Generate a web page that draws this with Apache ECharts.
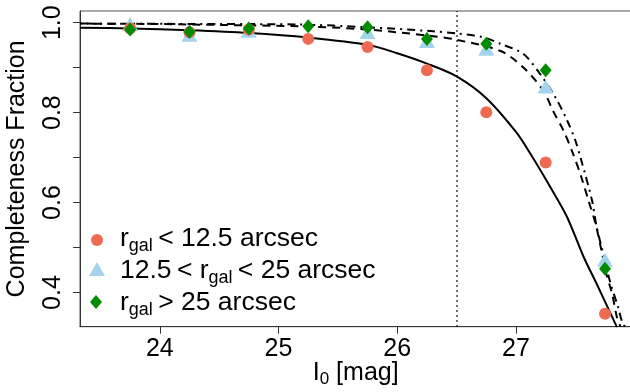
<!DOCTYPE html>
<html>
<head>
<meta charset="utf-8">
<script src="https://cdn.jsdelivr.net/npm/echarts@6/dist/echarts.min.js"></script>
<style>
  html, body { margin: 0; padding: 0; background: #fff; }
  #chart { width: 630px; height: 392px; }
</style>
</head>
<body>
<div id="chart"></div>
<script>
// Magnitude bins and measured completeness fractions per galactocentric radius group
const magBins = [23.75, 24.25, 24.75, 25.25, 25.75, 26.25, 26.75, 27.25, 27.75];
const fracInner = [0.987, 0.979, 0.985, 0.964, 0.946, 0.894, 0.801, 0.689, 0.353];   // r_gal < 12.5
const fracMiddle = [0.992, 0.968, 0.977, null, 0.974, 0.954, 0.937, 0.853, 0.468];   // 12.5 < r_gal < 25
const fracOuter = [0.985, 0.980, 0.987, 0.992, 0.990, 0.964, 0.953, 0.894, 0.453];   // r_gal > 25

// Fitted completeness curves, sampled along magnitude
const fitInnerMag = [23.33, 23.75, 24.25, 24.75, 25.25, 25.75, 26.0, 26.25, 26.5, 26.75, 27.0, 27.12, 27.29, 27.43, 27.57, 27.68, 27.85];
const fitInner = [0.989, 0.987, 0.983, 0.977, 0.967, 0.951, 0.932, 0.909, 0.8805, 0.832, 0.757, 0.709, 0.634, 0.568, 0.479, 0.419, 0.323];

const fitMiddleMag = [23.33, 24.0, 24.5, 25.18, 25.74, 26.3, 26.5, 26.87, 27.06, 27.23, 27.31, 27.40, 27.48, 27.55, 27.61, 27.67, 27.72, 27.76, 27.81, 27.85, 27.88];
const fitMiddle = [0.998, 0.997, 0.995, 0.992, 0.985, 0.970, 0.962, 0.937, 0.901, 0.849, 0.805, 0.760, 0.709, 0.657, 0.605, 0.553, 0.493, 0.442, 0.397, 0.345, 0.324];

const fitOuterMag = [23.33, 24.5, 25.18, 25.74, 26.3, 26.5, 26.72, 26.87, 27.06, 27.2, 27.33, 27.43, 27.5, 27.55, 27.64, 27.68, 27.75, 27.79, 27.86, 27.9, 27.93];
const fitOuter = [0.998, 0.997, 0.996, 0.990, 0.981, 0.976, 0.968, 0.953, 0.931, 0.887, 0.835, 0.783, 0.738, 0.694, 0.605, 0.545, 0.471, 0.426, 0.367, 0.330, 0.322];

// Magnitude limit marker
const magLimit = 26.5;

// Axis ticks
const xTicks = [24, 25, 26, 27];
const yTicks = [0.4, 0.5, 0.6, 0.7, 0.8, 0.9, 1.0];
const yLabels = [0.4, 0.6, 0.8, 1.0];

const FONT = '"Liberation Sans", Arial, Helvetica, sans-serif';
const C_INNER = '#EE6A50';
const C_MIDDLE = '#A4D3EE';
const C_OUTER = '#008B00';

const zip = (xs, ys) => xs.map((x, i) => [x, ys[i]]);

const chart = echarts.init(document.getElementById('chart'), null, { renderer: 'canvas' });

const LEG_FS = 26.5;
const legendRich = {
  n: { fontSize: LEG_FS, fontFamily: FONT, color: '#000', lineHeight: 30 },
  r: { fontSize: LEG_FS, fontFamily: FONT, color: '#000', lineHeight: 30 },
  s: { fontSize: 18, fontFamily: FONT, color: '#000', lineHeight: 30, padding: [14, 0, 0, 0] }
};

function legendRow(y, text) {
  return {
    type: 'text', left: 120, top: y - 15, z: 100,
    style: { text: text, rich: legendRich, fill: '#000', font: LEG_FS + 'px ' + FONT }
  };
}

const option = {
  animation: false,
  backgroundColor: '#fff',
  grid: { left: 80, top: 11, width: 551.4, height: 315.7, containLabel: false, outerBoundsMode: 'none',
    show: true, borderColor: '#555', borderWidth: 1, backgroundColor: 'transparent' },
  xAxis: {
    type: 'value', min: 23.328, max: 27.972,
    splitLine: { show: false },
    axisLine: { show: true, onZero: false, lineStyle: { color: '#333', width: 1 } },
    axisTick: { show: true, inside: false, length: 7, lineStyle: { color: '#333' }, customValues: xTicks },
    axisLabel: { customValues: xTicks, fontSize: 25, fontFamily: FONT, color: '#000', margin: 10 },
    name: '{m|I}{s|0}{m| [mag]}',
    nameLocation: 'middle', nameGap: 31, nameMoveOverlap: false,
    nameTextStyle: {
      rich: {
        m: { fontSize: 25, fontFamily: FONT, color: '#000', lineHeight: 30 },
        s: { fontSize: 17, fontFamily: FONT, color: '#000', lineHeight: 30, padding: [14, 0, 0, 0] }
      }
    }
  },
  yAxis: {
    type: 'value', min: 0.324, max: 1.026,
    splitLine: { show: false },
    axisLine: { show: true, onZero: false, lineStyle: { color: '#333', width: 1 } },
    axisTick: { show: true, inside: false, length: 7, lineStyle: { color: '#333' }, customValues: yTicks },
    axisLabel: { customValues: yLabels, rotate: 90, fontSize: 25, fontFamily: FONT, color: '#000', margin: 14,
      formatter: v => v.toFixed(1) },
    name: 'Completeness Fraction',
    nameLocation: 'middle', nameGap: 50, nameRotate: 90, nameMoveOverlap: false,
    nameTextStyle: { fontSize: 25, fontFamily: FONT, color: '#000' }
  },
  series: [
    {
      type: 'line', data: zip(fitInnerMag, fitInner), smooth: 0.3, symbol: 'none', clip: true,
      lineStyle: { color: '#000', width: 2 }, z: 3,
      markLine: {
        silent: true, symbol: 'none', label: { show: false },
        lineStyle: { color: '#000', width: 1.5, type: [1.5, 3.5] },
        data: [{ xAxis: magLimit }]
      }
    },
    { type: 'line', data: zip(fitMiddleMag, fitMiddle), smooth: 0.3, symbol: 'none', clip: true,
      lineStyle: { color: '#000', width: 2, type: [8, 6] }, z: 3 },
    { type: 'line', data: zip(fitOuterMag, fitOuter), smooth: 0.3, symbol: 'none', clip: true,
      lineStyle: { color: '#000', width: 2, type: [2, 5, 8, 5] }, z: 3 },
    { type: 'scatter', name: 'middle', data: zip(magBins, fracMiddle).filter(p => p[1] !== null),
      symbol: 'triangle', symbolSize: [16, 14], symbolOffset: [0, -2.3], itemStyle: { color: C_MIDDLE, opacity: 1 }, z: 4 },
    { type: 'scatter', name: 'inner', data: zip(magBins, fracInner),
      symbol: 'circle', symbolSize: 12, itemStyle: { color: C_INNER, opacity: 1 }, z: 5 },
    { type: 'scatter', name: 'outer', data: zip(magBins, fracOuter),
      symbol: 'diamond', symbolSize: [12, 14], itemStyle: { color: C_OUTER, opacity: 1 }, z: 6 }
  ],
  graphic: [
    { type: 'circle', shape: { cx: 97, cy: 240, r: 6 }, style: { fill: C_INNER }, z: 100 },
    { type: 'polygon', shape: { points: [[97, 262], [105, 276], [89, 276]] }, style: { fill: C_MIDDLE }, z: 100 },
    { type: 'polygon', shape: { points: [[96, 295], [102, 302], [96, 309], [90, 302]] }, style: { fill: C_OUTER }, z: 100 },
    legendRow(238, '{r|r}{s|gal}{n|\u2009< 12.5 arcsec}'),
    legendRow(270, '{n|12.5\u2009< }{r|r}{s|gal}{n|\u2009< 25 arcsec}'),
    legendRow(302, '{r|r}{s|gal}{n|\u2009> 25 arcsec}')
  ]
};

chart.setOption(option);
</script>
</body>
</html>
